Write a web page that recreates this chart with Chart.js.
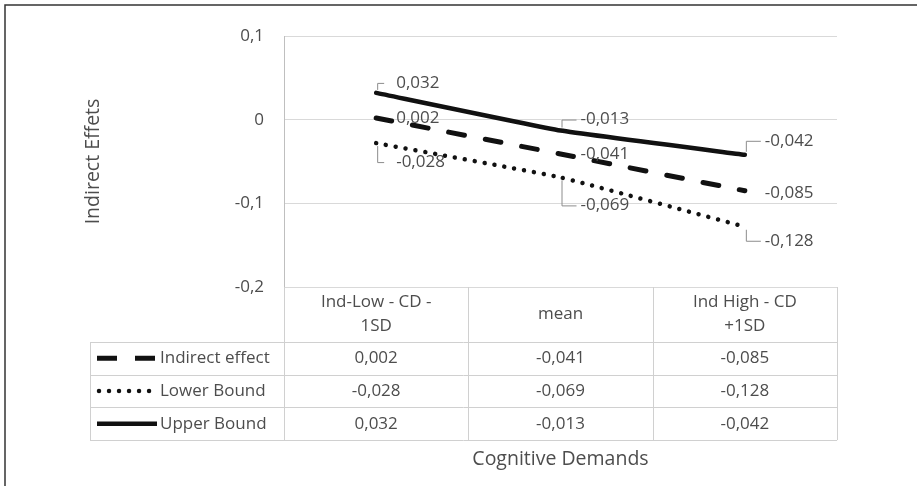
<!DOCTYPE html>
<html>
<head>
<meta charset="utf-8">
<script src="https://cdn.jsdelivr.net/npm/chart.js@4/dist/chart.umd.min.js"></script>
<style>
  html, body { margin: 0; padding: 0; background: #fff; }
  #wrap { width: 917px; height: 486px; position: relative; }
</style>
</head>
<body>
<div id="wrap"><canvas id="effChart"></canvas></div>
<script>
// categories (header rows of the data table, split in lines)
const categories = [['Ind-Low - CD -', '1SD'], ['mean'], ['Ind High - CD', '+1SD']];
const seriesNames = ['Indirect effect', 'Lower Bound', 'Upper Bound'];
const indirectEffect = [0.002, -0.041, -0.085];
const lowerBound = [-0.028, -0.069, -0.128];
const upperBound = [0.032, -0.013, -0.042];
const yTicks = [0.1, 0, -0.1, -0.2];

const FONT = '"Open Sans", sans-serif';
const TXT = '#4d4d4d';
const GRID = '#d9d9d9';
const LINE = '#111';
const FS = 17;

// label offsets from the point (dy) - Excel style callouts
const labelDy = [
  [0, 0, 2],       // indirect
  [19, 28, 14],    // lower
  [-10, -11, -14]  // upper
];

function fmt(v) {
  if (v === 0) return '0';
  return String(v).replace('.', ',');
}

const styles = [
  { dash: [16, 21], width: 5 },
  { dash: [0.01, 10], width: 4.5 },
  { dash: [], width: 4.5 }
];

const tablePlugin = {
  id: 'tablePlugin',
  afterDraw(chart) {
    const ctx = chart.ctx;
    const area = chart.chartArea;
    const xs = chart.scales.x;
    const colW = (area.right - area.left) / categories.length;
    const headTop = area.bottom;
    const headBot = headTop + 55;
    const rowH = 32.7;
    const tabLeft = 90;
    const tabBot = headBot + rowH * 3;

    ctx.save();
    // outer frame (top + left only visible)
    ctx.strokeStyle = '#333';
    ctx.lineWidth = 1.5;
    ctx.beginPath();
    ctx.moveTo(5, 486);
    ctx.lineTo(5, 5);
    ctx.lineTo(917, 5);
    ctx.stroke();

    // table grid
    ctx.strokeStyle = '#d0d0d0';
    ctx.lineWidth = 1;
    ctx.beginPath();
    for (let i = 0; i <= categories.length; i++) {
      const x = Math.round(area.left + colW * i) + 0.5;
      ctx.moveTo(x, headTop);
      ctx.lineTo(x, tabBot);
    }
    ctx.moveTo(tabLeft + 0.5, headBot);
    ctx.lineTo(tabLeft + 0.5, tabBot);
    for (let r = 0; r <= 3; r++) {
      const y = Math.round(headBot + rowH * r) + 0.5;
      ctx.moveTo(tabLeft, y);
      ctx.lineTo(area.right, y);
    }
    ctx.stroke();

    // header texts
    ctx.fillStyle = TXT;
    ctx.font = FS + 'px ' + FONT;
    ctx.textAlign = 'center';
    ctx.textBaseline = 'middle';
    const headMid = (headTop + headBot) / 2;
    categories.forEach((lines, i) => {
      const cx = xs.getPixelForValue(i);
      const y0 = headMid - (lines.length - 1) * 12;
      lines.forEach((ln, k) => ctx.fillText(ln, cx, y0 + k * 24));
    });

    // rows: legend symbol + name + values
    const allData = [indirectEffect, lowerBound, upperBound];
    allData.forEach((vals, r) => {
      const cy = headBot + rowH * r + rowH / 2;
      const st = styles[r];
      ctx.save();
      ctx.strokeStyle = LINE;
      ctx.lineWidth = st.width;
      ctx.lineCap = r === 1 ? 'round' : 'butt';
      ctx.setLineDash(r === 0 ? [20, 18] : r === 1 ? [0.01, 10] : []);
      ctx.beginPath();
      ctx.moveTo(r === 1 ? 99 : 97, cy);
      ctx.lineTo(157, cy);
      ctx.stroke();
      ctx.restore();
      ctx.textAlign = 'left';
      ctx.fillText(seriesNames[r], 160, cy);
      ctx.textAlign = 'center';
      vals.forEach((v, i) => ctx.fillText(fmt(v), xs.getPixelForValue(i), cy));
    });

    // x axis title
    ctx.font = '19.5px ' + FONT;
    ctx.fillText('Cognitive Demands', (area.left + area.right) / 2, tabBot + 19);
    ctx.restore();
  }
};

const calloutPlugin = {
  id: 'calloutPlugin',
  afterDatasetsDraw(chart) {
    const ctx = chart.ctx;
    ctx.save();
    ctx.font = FS + 'px ' + FONT;
    ctx.fillStyle = TXT;
    ctx.textAlign = 'left';
    ctx.textBaseline = 'middle';
    chart.data.datasets.forEach((ds, d) => {
      const meta = chart.getDatasetMeta(d);
      meta.data.forEach((pt, i) => {
        const dy = labelDy[d][i];
        const lx = pt.x + 20;
        const ly = pt.y + dy;
        if (Math.abs(dy) > 6) {
          ctx.strokeStyle = '#8c8c8c';
          ctx.lineWidth = 1;
          ctx.beginPath();
          ctx.moveTo(pt.x + 1.5, pt.y + (dy > 0 ? 3 : -3));
          ctx.lineTo(pt.x + 1.5, ly + 0.5);
          ctx.lineTo(pt.x + (i === 0 ? 8 : 16), ly + 0.5);
          ctx.stroke();
        }
        ctx.fillText(fmt(ds.data[i]), lx, ly);
      });
    });
    ctx.restore();
  }
};

const chartData = {
  labels: categories.map(c => c.join(' ')),
  datasets: seriesNames.map((name, d) => ({
    label: name,
    data: [indirectEffect, lowerBound, upperBound][d],
    borderColor: LINE,
    borderWidth: styles[d].width,
    borderDash: styles[d].dash,
    borderCapStyle: 'round',
    pointRadius: 0,
    tension: 0.1
  }))
};

new Chart(document.getElementById('effChart'), {
  type: 'line',
  data: chartData,
  options: {
    responsive: true,
    maintainAspectRatio: false,
    animation: false,
    layout: {
      padding: { left: 80, right: 80, top: 36, bottom: 199 }
    },
    scales: {
      x: {
        type: 'category',
        offset: true,
        display: false
      },
      y: {
        min: -0.2,
        max: 0.1,
        afterBuildTicks: (scale) => {
          scale.ticks = yTicks.map(v => ({ value: v }));
        },
        afterFit: (scale) => {
          scale.width = 204;
        },
        grid: {
          color: GRID,
          drawTicks: false
        },
        border: { color: '#bfbfbf', width: 1 },
        ticks: {
          color: TXT,
          padding: 20,
          font: { family: FONT, size: FS },
          callback: (v) => fmt(Math.round(v * 10) / 10)
        },
        title: {
          display: true,
          text: 'Indirect Effets',
          color: TXT,
          font: { family: FONT, size: 19.5 },
          padding: { top: 2, bottom: 0 }
        }
      }
    },
    plugins: {
      legend: { display: false },
      tooltip: { enabled: false }
    }
  },
  plugins: [tablePlugin, calloutPlugin]
});
</script>
</body>
</html>
